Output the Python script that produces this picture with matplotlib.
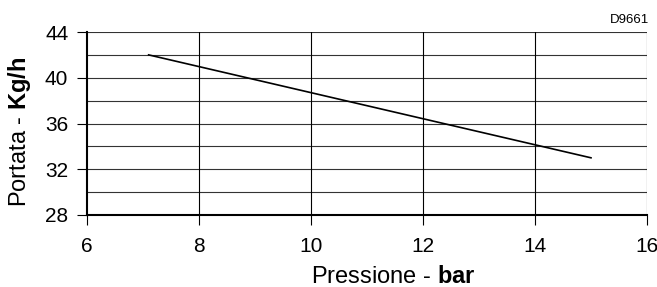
import matplotlib
matplotlib.use('Agg')
import matplotlib.pyplot as plt

plt.rcParams['font.family'] = ['Liberation Sans', 'DejaVu Sans']
plt.rcParams['mathtext.fontset'] = 'custom'
plt.rcParams['mathtext.rm'] = 'Liberation Sans'
plt.rcParams['mathtext.bf'] = 'Liberation Sans:bold'

pressione = [7.1, 15.0]
portata = [42.0, 33.0]
xticks = [6, 8, 10, 12, 14, 16]
yticks = [28, 32, 36, 40, 44]
ygrid = [28, 30, 32, 34, 36, 38, 40, 42, 44]

W, H = 657, 287
fig = plt.figure(figsize=(W / 100, H / 100), dpi=100)
ax = fig.add_axes([87 / W, 1 - 215 / H, 560 / W, 183 / H])

for y in ygrid:
    ax.axhline(y, color='#333333', lw=0.8, zorder=1)
for x in xticks[1:]:
    ax.axvline(x, color='black', lw=0.8, zorder=1)

ax.plot(pressione, portata, color='black', lw=1.2, zorder=3)

ax.set_xlim(6, 16)
ax.set_ylim(28, 44)
ax.set_xticks(xticks)
ax.set_yticks(yticks)
ax.tick_params(axis='both', labelsize=15, length=7.5, width=0.8, color='black')
ax.tick_params(axis='x', pad=8)
ax.tick_params(axis='y', pad=6)

for s in ['top', 'right']:
    ax.spines[s].set_visible(False)
ax.spines['left'].set_linewidth(1.5)
ax.spines['bottom'].set_linewidth(1.5)

# axis titles placed by baseline
fig.text(393 / W, 1 - 283 / H, r'Pressione - $\mathbf{bar}$', fontsize=17,
         ha='center', va='baseline')
fig.text(26 / W, 1 - 132 / H, r'Portata - $\mathbf{Kg/h}$', fontsize=17,
         ha='center', va='baseline', rotation=90, rotation_mode='anchor')

fig.text(649 / W, 1 - 20 / H, 'D9661', fontsize=9.5, ha='right', va='center')

fig.savefig('out.png', dpi=100)
